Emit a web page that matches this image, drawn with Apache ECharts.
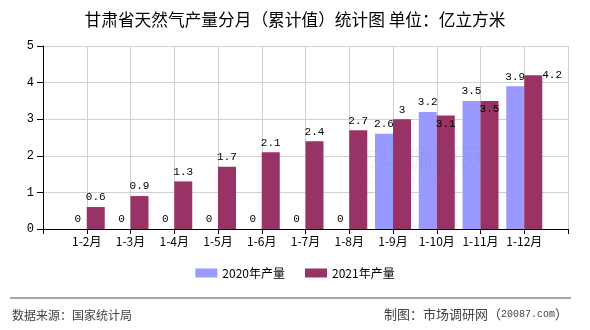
<!DOCTYPE html>
<html>
<head>
<meta charset="utf-8">
<script src="https://cdn.jsdelivr.net/npm/echarts@6/dist/echarts.min.js"></script>
<style>
  html, body { margin: 0; padding: 0; background: #fff; }
  #chart { width: 590px; height: 330px; }
</style>
</head>
<body>
<div id="chart"></div>
<script>
// Monthly cumulative natural gas output, Gansu (100 million m³)
const months = ['1-2月', '1-3月', '1-4月', '1-5月', '1-6月', '1-7月', '1-8月', '1-9月', '1-10月', '1-11月', '1-12月'];
const output2020 = [0, 0, 0, 0, 0, 0, 0, 2.6, 3.2, 3.5, 3.9];
const output2021 = [0.6, 0.9, 1.3, 1.7, 2.1, 2.4, 2.7, 3, 3.1, 3.5, 4.2];
const yTicks = [0, 1, 2, 3, 4, 5];
const seriesNames = ['2020年产量', '2021年产量'];

const CJK = '"Noto Sans CJK SC", "Noto Sans", sans-serif';
const MONO = '"Liberation Mono", "DejaVu Sans Mono", monospace';

// Axis has an empty slot at each end so categories sit on grid ticks
const axisCats = [''].concat(months, ['']);
function pad(arr) { return ['-'].concat(arr, ['-']); }

const labelBase = { show: true, position: 'top', distance: 4, color: '#000', fontFamily: MONO, fontSize: 11 };

const data2020 = pad(output2020);
const data2021 = pad(output2021).map(function (v, i) {
  const m = months[i - 1];
  if (m === '1-10月' || m === '1-11月') {
    return { value: v, label: { position: 'insideTop', distance: 3 } };
  }
  if (m === '1-12月') {
    return { value: v, label: { position: [18, -6] } };
  }
  return v;
});

const chart = echarts.init(document.getElementById('chart'), null, { renderer: 'canvas' });
chart.setOption({
  animation: false,
  backgroundColor: '#fff',
  title: {
    text: '甘肃省天然气产量分月（累计值）统计图 单位：亿立方米',
    left: 'center', top: 6,
    textStyle: { fontFamily: CJK, fontSize: 16.7, fontWeight: 'normal', color: '#000' }
  },
  legend: {
    data: seriesNames,
    bottom: 46, left: 'center',
    itemWidth: 22, itemHeight: 9, itemGap: 20,
    textStyle: { fontFamily: CJK, fontSize: 12, color: '#000' },
    icon: 'rect'
  },
  grid: { left: 43, right: 22, top: 46, bottom: 101 },
  xAxis: {
    type: 'category',
    data: axisCats,
    boundaryGap: false,
    axisLine: { lineStyle: { color: '#000', width: 1 } },
    axisTick: { show: true, length: 5, lineStyle: { color: '#000' }, interval: 0 },
    axisLabel: { interval: 0, color: '#000', fontFamily: CJK, fontSize: 12, margin: 6 },
    splitLine: { show: true, interval: 0, lineStyle: { color: '#d0d0d0' } }
  },
  yAxis: {
    type: 'value',
    min: yTicks[0], max: yTicks[yTicks.length - 1], interval: 1,
    axisLine: { show: true, lineStyle: { color: '#000' } },
    axisTick: { show: true, length: 6, lineStyle: { color: '#000' } },
    axisLabel: { color: '#000', fontFamily: MONO, fontSize: 12, margin: 9 },
    splitLine: { show: true, lineStyle: { color: '#d0d0d0' } }
  },
  series: [
    {
      name: seriesNames[0], type: 'bar', data: data2020,
      barWidth: 18, barGap: '0%',
      itemStyle: { color: '#9999ff' },
      label: labelBase
    },
    {
      name: seriesNames[1], type: 'bar', data: data2021,
      barWidth: 18, barGap: '0%',
      itemStyle: { color: '#993366' },
      label: labelBase
    }
  ],
  graphic: [
    {
      type: 'text', left: 352, top: 145, silent: true, z: 100,
      style: { text: '市场调研网', fill: 'rgba(120,120,130,0.07)', font: '27px "Noto Sans CJK SC"' }
    },
    {
      type: 'text', left: 362, top: 176, silent: true, z: 100,
      style: { text: 'www.20087.com', fill: 'rgba(120,120,130,0.07)', font: '10px "Liberation Mono"' }
    },
    {
      type: 'line', silent: true,
      shape: { x1: 10, y1: 298, x2: 571, y2: 298 },
      style: { stroke: '#888', lineWidth: 1.5 }
    },
    {
      type: 'text', left: 12, top: 309,
      style: { text: '数据来源：国家统计局', fill: '#444', font: '12px "Noto Sans CJK SC"' }
    },
    {
      type: 'text', right: 22, top: 308,
      style: {
        text: '{c|制图：市场调研网（}{m|20087.com}{c|）}',
        rich: {
          c: { fill: '#444', fontFamily: 'Noto Sans CJK SC', fontSize: 13 },
          m: { fill: '#444', fontFamily: 'Liberation Mono', fontSize: 10 }
        }
      }
    }
  ]
});
</script>
</body>
</html>
